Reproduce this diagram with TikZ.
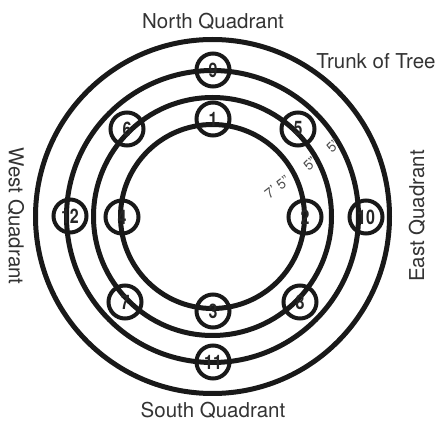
\documentclass[tikz,border=0pt]{standalone}
\usepackage{fontspec}
\setmainfont{TeX Gyre Heros}
\newcommand\squeeze[1]{\scalebox{0.8}[1]{#1}}
\begin{document}
\begin{tikzpicture}[x=1pt,y=-1pt,
  ring/.style={draw=black!90,line width=5pt},
  tree/.style={circle,draw=black!90,line width=4pt,minimum size=33pt,inner sep=0pt,
    font=\fontsize{20}{20}\selectfont\bfseries,text=black!85},
  quad/.style={font=\fontsize{20.5}{21}\selectfont,text=black!80},
  meas/.style={font=\fontsize{14}{14}\selectfont,text=black!70,inner sep=0.5pt}]
\useasboundingbox (0,0) rectangle (437,422);
\coordinate (c) at (212.5,216.5);
\draw[ring] (c) circle[radius=92];
\draw[ring] (c) circle[radius=119];
\draw[ring] (c) circle[radius=146];
\draw[ring] (c) circle[radius=177];
\node[tree] (n1) at (213,119) {\squeeze{1}};
\node[tree] (n2) at (305,217) {\squeeze{2}};
\node[tree] (n3) at (213,311) {\squeeze{3}};
\node[tree] (n4) at (122,217) {\squeeze{4}};
\node[tree] (n5) at (298,129) {\squeeze{5}};
\node[tree] (n6) at (127,129) {\squeeze{6}};
\node[tree] (n7) at (125,302) {\squeeze{7}};
\node[tree] (n8) at (300,302) {\squeeze{8}};
\node[tree] (n9) at (213,70) {\squeeze{9}};
\node[tree] (n10) at (366,217) {\squeeze{10}};
\node[tree] (n11) at (213,362) {\squeeze{11}};
\node[tree] (n12) at (70,216) {\squeeze{12}};
\node[quad] (north) at (213,21) {North Quadrant};
\node[quad] (south) at (213,410) {South Quadrant};
\node[quad] (trunk) at (376,61) {Trunk of Tree};
\node[quad,rotate=-90] (west) at (16,216) {West Quadrant};
\node[quad,rotate=90] (east) at (417,216) {East Quadrant};
\node[meas,rotate=38] (m1) at (277,187) {7' 5"};
\node[meas,rotate=45] (m2) at (310,164) {5"};
\node[meas,rotate=45] (m3) at (333,146) {5"};
\end{tikzpicture}
\end{document}
